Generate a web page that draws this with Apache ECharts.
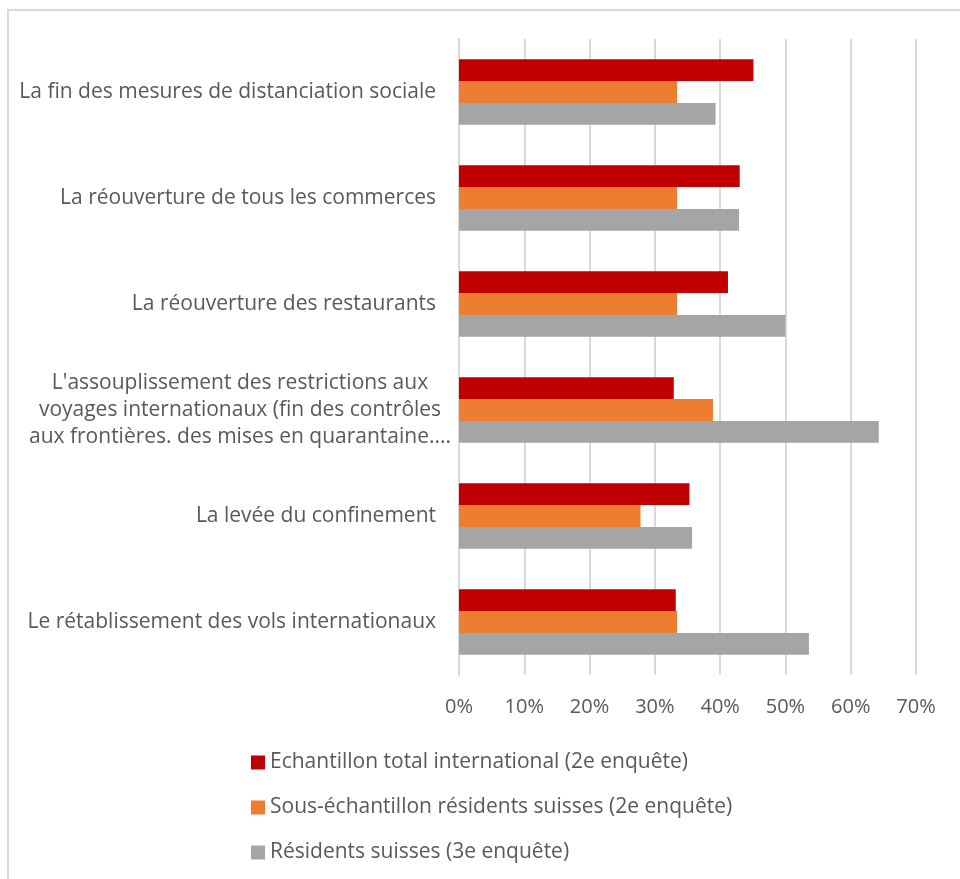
<!DOCTYPE html>
<html>
<head>
<meta charset="utf-8">
<script src="https://cdn.jsdelivr.net/npm/echarts@6/dist/echarts.min.js"></script>
<style>
  body { margin: 0; background: #fff; }
  #frame { position: absolute; left: 7px; top: 9px; width: 1000px; height: 1000px; border: 2px solid #d9d9d9; }
  #main { position: absolute; left: 0; top: 0; width: 960px; height: 879px; }
</style>
</head>
<body>
<div id="frame"></div>
<div id="main"></div>
<script>
// categories, top to bottom
var categories = [
  'La fin des mesures de distanciation sociale',
  'La réouverture de tous les commerces',
  'La réouverture des restaurants',
  "L'assouplissement des restrictions aux\nvoyages internationaux (fin des contrôles\naux frontières. des mises en quarantaine....",
  'La levée du confinement',
  'Le rétablissement des vols internationaux'
];
var seriesNames = [
  'Echantillon total international (2e enquête)',
  'Sous-échantillon résidents suisses (2e enquête)',
  'Résidents suisses (3e enquête)'
];
var totalIntl2 = [45.1, 43.0, 41.2, 32.9, 35.3, 33.2];
var suisses2   = [33.4, 33.4, 33.4, 38.9, 27.8, 33.4];
var suisses3   = [39.3, 42.9, 50.0, 64.3, 35.7, 53.6];
var xTicks = [0, 10, 20, 30, 40, 50, 60, 70];

var colors = ['#C00000', '#ED7D31', '#A5A5A5'];
var font = '"Open Sans", sans-serif';
var txt = '#595959';

var myChart = echarts.init(document.getElementById('main'));

// multi-line label: centre each line
function catLabel(v) {
  if (v.indexOf('\n') >= 0) {
    return v.split('\n').map(function (s) { return '{c|' + s + '}'; }).join('\n');
  }
  return v;
}

var option = {
  animation: false,
  color: colors,
  textStyle: { fontFamily: font },
  grid: { left: 459, right: 44, top: 39, bottom: 204 },
  legend: {
    orient: 'vertical',
    left: 246,
    top: 745,
    itemWidth: 14,
    itemHeight: 14,
    itemGap: 20,
    icon: 'rect',
    textStyle: { fontSize: 21, color: txt, fontFamily: font, lineHeight: 25 },
    data: seriesNames
  },
  xAxis: {
    type: 'value',
    min: xTicks[0],
    max: xTicks[xTicks.length - 1],
    interval: 10,
    axisLine: { show: false },
    axisTick: { show: false },
    splitLine: { lineStyle: { color: '#d9d9d9', width: 2 } },
    axisLabel: { formatter: '{value}%', fontSize: 20, color: txt, margin: 22, fontFamily: font }
  },
  yAxis: {
    type: 'category',
    inverse: true,
    data: categories,
    axisLine: { show: true, lineStyle: { color: '#d9d9d9', width: 2 } },
    axisTick: { show: false },
    axisLabel: {
      fontSize: 21, color: txt, margin: 23, fontFamily: font, lineHeight: 27,
      formatter: catLabel,
      rich: { c: { width: 392, align: 'center', fontSize: 21, color: txt, fontFamily: font, lineHeight: 27 } }
    }
  },
  series: [
    { name: seriesNames[0], type: 'bar', data: totalIntl2, barGap: '0%', barCategoryGap: '38%' },
    { name: seriesNames[1], type: 'bar', data: suisses2, barGap: '0%', barCategoryGap: '38%' },
    { name: seriesNames[2], type: 'bar', data: suisses3, barGap: '0%', barCategoryGap: '38%' }
  ]
};

myChart.setOption(option);
</script>
</body>
</html>
